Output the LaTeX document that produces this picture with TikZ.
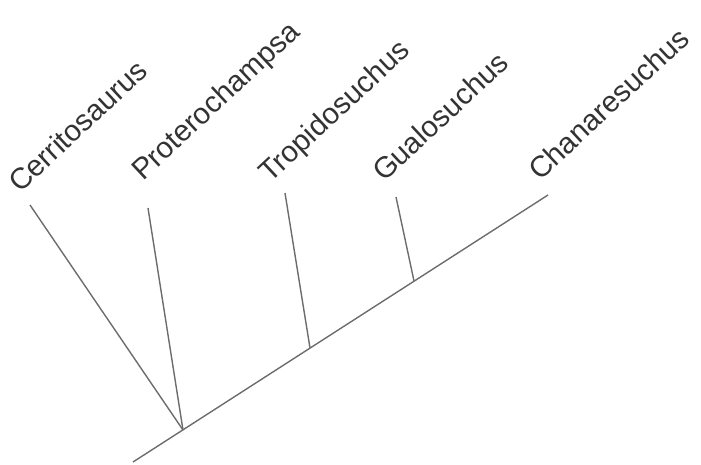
\documentclass[tikz,border=0pt]{standalone}
\usepackage{fontspec}
\setmainfont{Liberation Sans}
\usetikzlibrary{positioning}
\tikzset{
  taxon/.style={anchor=base west,inner sep=0pt,rotate=43,text=black!80,font=\fontsize{29.5}{35}\selectfont},
  branch/.style={gray!85!black,line width=1.4pt}
}
\begin{document}
\begin{tikzpicture}[x=1pt,y=-1pt,line join=round]
  \useasboundingbox (0,0) rectangle (701,465);
  % stem and internal nodes
  \coordinate (root) at (133,462);
  \coordinate (nA) at (183,430);
  \coordinate (nB) at (310,348);
  \coordinate (nC) at (414,281);
  \coordinate (tip) at (548,195);
  % leaf ends
  \coordinate (cer) at (30,205);
  \coordinate (pro) at (148,208);
  \coordinate (tro) at (285,193);
  \coordinate (gua) at (396,197);
  % branches
  \draw[branch] (root) -- (tip);
  \draw[branch] (cer) -- (nA);
  \draw[branch] (pro) -- (nA);
  \draw[branch] (tro) -- (nB);
  \draw[branch] (gua) -- (nC);
  % taxon names
  \node[taxon] (lcer) at (20,194) {Cerritosaurus};
  \node[taxon] (lpro) at (143,182) {Proterochampsa};
  \node[taxon] (ltro) at (270,184) {Tropidosuchus};
  \node[taxon] (lgua) at (384,183) {Gualosuchus};
  \node[taxon] (lcha) at (540,182) {Chanaresuchus};
\end{tikzpicture}
\end{document}
